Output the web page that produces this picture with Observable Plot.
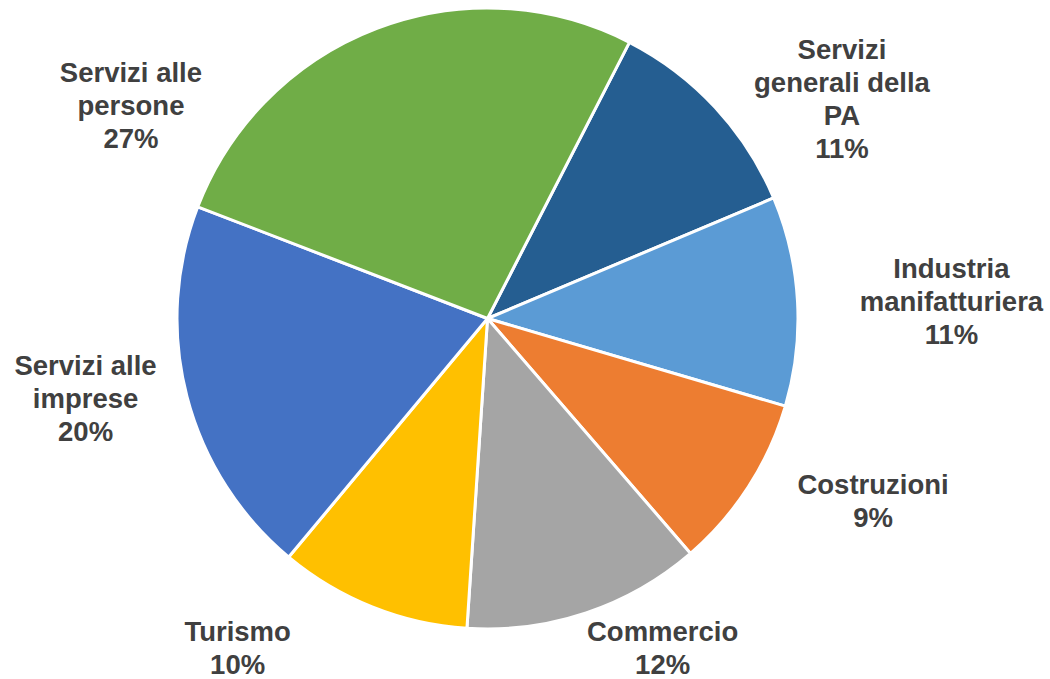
<!DOCTYPE html>
<html>
<head>
<meta charset="utf-8">
<script src="https://cdn.jsdelivr.net/npm/d3@7"></script>
<script src="https://cdn.jsdelivr.net/npm/@observablehq/plot@0.6"></script>
<style>html,body{margin:0;padding:0;background:#fff;}</style>
</head>
<body>
<div id="chart"></div>
<script>
// ---- data ----
const sectors = [
  "Servizi\ngenerali della\nPA",
  "Industria\nmanifatturiera",
  "Costruzioni",
  "Commercio",
  "Turismo",
  "Servizi alle\nimprese",
  "Servizi alle\npersone"
];
const shares = [11.1, 10.9, 9.1, 12.4, 10.0, 19.8, 26.7];
const percentLabels = ["11%", "11%", "9%", "12%", "10%", "20%", "27%"];
const colors = ["#255E91", "#5B9BD5", "#ED7D31", "#A5A5A5", "#FFC000", "#4472C4", "#70AD47"];

// ---- layout ----
const W = 1050, H = 679, R = 309, CX = 487.5, CY = 318.5, START_DEG = 27.2;
const labelShiftDeg = [10.8, 0.9, -7.6, -9.55, 15.6, 3.5, -38.15];
const labelDist = [1.351, 1.501, 1.377, 1.201, 1.334, 1.327, 1.348];

const rad = Math.PI / 180;
const table = sectors.map((s, i) => ({sector: s, value: shares[i], color: colors[i], label: s + "\n" + percentLabels[i]}));
const arcs = d3.pie().sort(null).value(d => d.value)
  .startAngle(START_DEG * rad).endAngle(START_DEG * rad + 2 * Math.PI)(table);

const labels = arcs.map((a, i) => {
  const mid = (a.startAngle + a.endAngle) / 2 + labelShiftDeg[i] * rad;
  return {x: labelDist[i] * Math.sin(mid), y: labelDist[i] * Math.cos(mid), text: a.data.label};
});

const slices = (index, scales) => {
  const x = scales.x, y = scales.y;
  const cx = x(0), cy = y(0), r = x(1) - x(0);
  const g = d3.create("svg:g").attr("transform", `translate(${cx},${cy})`);
  const arc = d3.arc().innerRadius(0).outerRadius(r + 1.5);
  g.selectAll("path").data(arcs).join("path")
    .attr("d", arc)
    .attr("fill", d => d.data.color)
    .attr("stroke", "#fff")
    .attr("stroke-width", 3)
    .attr("stroke-linejoin", "round");
  return g.node();
};

const chart = Plot.plot({
  width: W,
  height: H,
  margin: 0,
  x: {domain: [-CX / R, (W - CX) / R], axis: null},
  y: {domain: [-(H - CY) / R, CY / R], axis: null},
  style: {background: "#fff", fontFamily: "'Liberation Sans', Arial, sans-serif"},
  marks: [
    slices,
    Plot.text(labels, {
      x: "x", y: "y", text: "text",
      fontSize: 27.5, fontWeight: "bold", fill: "#404040",
      lineHeight: 1.2, lineAnchor: "middle", textAnchor: "middle",
      fontFamily: "'Liberation Sans', Arial, sans-serif"
    })
  ]
});
document.getElementById("chart").appendChild(chart);
</script>
</body>
</html>
